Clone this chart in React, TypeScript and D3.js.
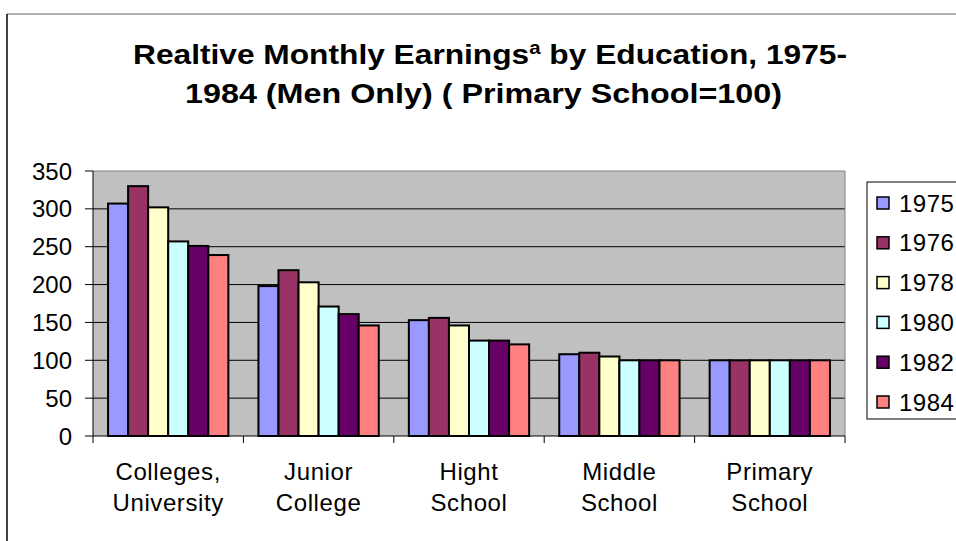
import React from "react";
import * as d3 from "d3";

// data
const categories = [
  ["Colleges,", "University"],
  ["Junior", "College"],
  ["Hight", "School"],
  ["Middle", "School"],
  ["Primary", "School"],
];
const years = ["1975", "1976", "1978", "1980", "1982", "1984"];
const v1975 = [307, 198, 153, 108, 100];
const v1976 = [330, 219, 156, 110, 100];
const v1978 = [302, 203, 146, 105, 100];
const v1980 = [257, 171, 126, 100, 100];
const v1982 = [251, 161, 126, 100, 100];
const v1984 = [239, 146, 121, 100, 100];
const yTicks = [0, 50, 100, 150, 200, 250, 300, 350];
const colors = ["#9999FF", "#993366", "#FFFFCC", "#CCFFFF", "#660066", "#FF8080"];

const seriesValues = [v1975, v1976, v1978, v1980, v1982, v1984];

export default function App() {
  const width = 956;
  const height = 541;
  // plot area
  let left = 93, right = 845, top = 171, bottom = 436;

  const catKeys = categories.map((c) => c.join(" "));
  const x0 = d3.scaleBand().domain(catKeys).range([left, right]).paddingInner(0.2).paddingOuter(0.1);
  const x1 = d3.scaleBand().domain(years).range([0, x0.bandwidth()]);
  const y = d3.scaleLinear().domain([0, 350]).range([bottom, top]);

  const step = x0.step();
  const font = "Arial, 'Liberation Sans', sans-serif";

  return (
    <svg width={width} height={height} style={{ position: "absolute", left: 0, top: 0 }} fontFamily={font}>
      <rect x={0} y={0} width={width} height={height} fill="white" />
      {/* chart border */}
      <line x1={7} y1={14} x2={width} y2={14} stroke="#999" strokeWidth={1.5} />
      <line x1={7} y1={14} x2={7} y2={height} stroke="black" strokeWidth={1.5} />

      {/* title */}
      <text x={133} y={64} fontSize={28} fontWeight="bold" textLength={714} lengthAdjust="spacingAndGlyphs">
        Realtive Monthly Earnings<tspan fontSize={18} dy={-10}>a</tspan>
        <tspan dy={10}> by Education, 1975-</tspan>
      </text>
      <text x={185} y={103} fontSize={28} fontWeight="bold" textLength={597} lengthAdjust="spacingAndGlyphs">
        1984 (Men Only) ( Primary School=100)
      </text>

      {/* plot background */}
      <rect x={left} y={top} width={right - left} height={bottom - top} fill="#C0C0C0" />
      {yTicks.slice(1).map((t) => (
        <line key={t} x1={left} x2={right} y1={y(t)} y2={y(t)} stroke={t === 350 ? "#808080" : "black"} strokeWidth={1} />
      ))}
      <line x1={right} x2={right} y1={top} y2={bottom} stroke="#808080" />

      {/* bars */}
      {catKeys.map((c, i) => (
        <g key={c} transform={`translate(${x0(c)},0)`}>
          {years.map((yr, j) => (
            <rect
              key={yr}
              x={x1(yr)}
              y={y(seriesValues[j][i])}
              width={x1.bandwidth()}
              height={bottom - y(seriesValues[j][i])}
              fill={colors[j]}
              stroke="black"
              strokeWidth={2}
            />
          ))}
        </g>
      ))}

      {/* axes */}
      <line x1={left} x2={right} y1={bottom} y2={bottom} stroke="black" />
      <line x1={left} x2={left} y1={top} y2={bottom} stroke="black" />
      {yTicks.map((t) => (
        <g key={t}>
          <line x1={left - 8} x2={left} y1={y(t)} y2={y(t)} stroke="black" />
          <text x={72} y={y(t)} dy="0.36em" textAnchor="end" fontSize={24}>
            {t}
          </text>
        </g>
      ))}
      {d3.range(categories.length + 1).map((i) => (
        <line key={i} x1={left + i * step} x2={left + i * step} y1={bottom} y2={bottom + 7} stroke="black" />
      ))}
      {catKeys.map((c, i) => (
        <g key={c}>
          {categories[i].map((line, k) => (
            <text key={k} x={(x0(c) as number) + x0.bandwidth() / 2} y={480 + k * 31} textAnchor="middle" fontSize={24} letterSpacing={0.6}>
              {line}
            </text>
          ))}
        </g>
      ))}

      {/* legend */}
      <rect x={867} y={182} width={120} height={237} fill="white" stroke="black" />
      {years.map((yr, j) => (
        <g key={yr} transform={`translate(0,${203 + j * 39.8})`}>
          <rect x={877} y={-6} width={12} height={12} fill={colors[j]} stroke="black" strokeWidth={1.5} />
          <text x={899} y={0} dy="0.36em" fontSize={24} letterSpacing={0.5}>
            {yr}
          </text>
        </g>
      ))}
    </svg>
  );
}
